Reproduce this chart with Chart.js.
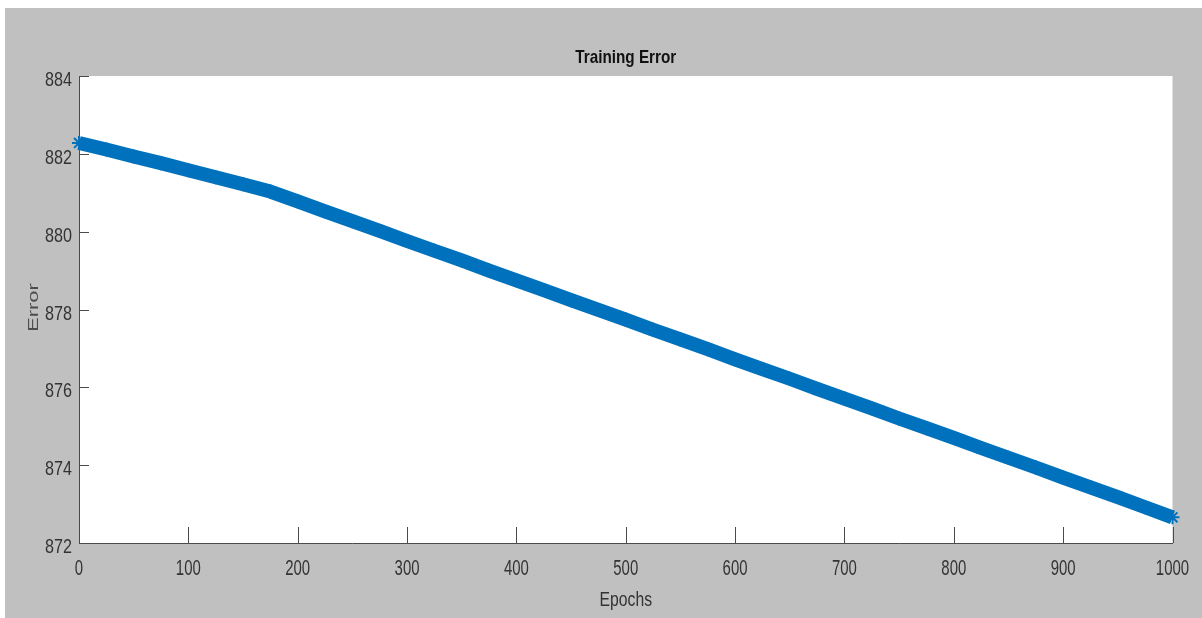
<!DOCTYPE html>
<html>
<head>
<meta charset="utf-8">
<title>Training Error</title>
<script src="https://cdn.jsdelivr.net/npm/chart.js@4.4.1/dist/chart.umd.min.js"></script>
<style>
  html, body { margin: 0; padding: 0; background: #ffffff; overflow: hidden; }
  #wrap { position: relative; width: 1202px; height: 618px; }
</style>
</head>
<body>
<div id="wrap"><canvas id="chart" width="1202" height="618"></canvas></div>
<script>
// Training error recorded every 25 epochs
const epochs = [
  0, 25, 50, 75, 100, 125, 150, 175, 200, 225,
  250, 275, 300, 325, 350, 375, 400, 425, 450, 475,
  500, 525, 550, 575, 600, 625, 650, 675, 700, 725,
  750, 775, 800, 825, 850, 875, 900, 925, 950, 975, 1000
];
const trainingError = [
  882.28, 882.11, 881.93, 881.76, 881.58, 881.40, 881.22, 881.03, 880.78, 880.52,
  880.27, 880.02, 879.76, 879.51, 879.26, 879.00, 878.75, 878.50, 878.24, 877.99,
  877.74, 877.48, 877.23, 876.98, 876.72, 876.47, 876.22, 875.96, 875.71, 875.46,
  875.20, 874.95, 874.70, 874.44, 874.19, 873.94, 873.68, 873.43, 873.18, 872.92, 872.66
];
const xTickValues = [0, 100, 200, 300, 400, 500, 600, 700, 800, 900, 1000];
const yTickValues = [872, 874, 876, 878, 880, 882, 884];
const chartTitle = 'Training Error';
const xAxisTitle = 'Epochs';
const yAxisTitle = 'Error';

const FIGURE_GRAY = '#c0c0c0';
const AXIS_COLOR = '#4a4a4a';
const LABEL_COLOR = '#333333';
const LINE_BLUE = '#0072BD';
const SANS = "'Liberation Sans', Arial, sans-serif";

// Figure background: thin white margin, gray figure, white axes box
const figureBackground = {
  id: 'figureBackground',
  beforeDraw(chart) {
    const { ctx, chartArea: a, width, height } = chart;
    ctx.save();
    ctx.fillStyle = '#ffffff';
    ctx.fillRect(0, 0, width, height);
    ctx.fillStyle = FIGURE_GRAY;
    ctx.fillRect(5, 8, width - 5, height - 8);
    ctx.fillStyle = '#ffffff';
    ctx.fillRect(a.left, a.top, a.right - a.left, a.bottom - a.top);
    ctx.restore();
  }
};

// Tick marks pointing into the axes box
const innerTicks = {
  id: 'innerTicks',
  beforeDatasetsDraw(chart) {
    const { ctx, chartArea: a, scales } = chart;
    ctx.save();
    ctx.strokeStyle = AXIS_COLOR;
    ctx.lineWidth = 1;
    ctx.beginPath();
    xTickValues.forEach(v => {
      const px = Math.round(scales.x.getPixelForValue(v)) + 0.5;
      ctx.moveTo(px, a.bottom);
      ctx.lineTo(px, a.bottom - 16);
    });
    yTickValues.forEach(v => {
      const py = Math.round(scales.y.getPixelForValue(v)) + 0.5;
      ctx.moveTo(a.left, py);
      ctx.lineTo(a.left + 10, py);
    });
    ctx.stroke();
    ctx.restore();
  }
};

// Condensed text: drawn with a horizontal squeeze along the text direction
function drawText(ctx, text, x, y, o) {
  ctx.save();
  ctx.translate(x, y);
  if (o.rotate) ctx.rotate(o.rotate);
  ctx.scale(o.sx, 1);
  ctx.font = o.font;
  ctx.fillStyle = o.color;
  ctx.textAlign = o.align;
  ctx.textBaseline = 'alphabetic';
  ctx.fillText(text, 0, 0);
  ctx.restore();
}

// Tick labels, axis titles and chart title
const textLayer = {
  id: 'textLayer',
  afterDraw(chart) {
    const { ctx, chartArea: a, scales } = chart;
    const cx = (a.left + a.right) / 2;
    yTickValues.forEach(v => {
      const py = scales.y.getPixelForValue(v);
      drawText(ctx, String(v), a.left - 7, py + 10,
        { font: `21px ${SANS}`, color: LABEL_COLOR, align: 'right', sx: 0.77 });
    });
    xTickValues.forEach(v => {
      const px = scales.x.getPixelForValue(v);
      drawText(ctx, String(v), px, a.bottom + 32,
        { font: `22px ${SANS}`, color: LABEL_COLOR, align: 'center', sx: 0.68 });
    });
    drawText(ctx, chartTitle, cx, 63,
      { font: `bold 19px ${SANS}`, color: '#111111', align: 'center', sx: 0.805 });
    drawText(ctx, xAxisTitle, cx, 606,
      { font: `21px ${SANS}`, color: LABEL_COLOR, align: 'center', sx: 0.75 });
    drawText(ctx, yAxisTitle, 38, (a.top + a.bottom) / 2 - 2,
      { font: `15px ${SANS}`, color: '#4d4d4d', align: 'center', sx: 1.45, rotate: -Math.PI / 2 });
  }
};

new Chart(document.getElementById('chart'), {
  type: 'line',
  data: {
    datasets: [{
      label: chartTitle,
      data: epochs.map((e, i) => ({ x: e, y: trainingError[i] })),
      borderColor: LINE_BLUE,
      backgroundColor: LINE_BLUE,
      borderWidth: 14,
      borderCapStyle: 'butt',
      borderJoinStyle: 'round',
      tension: 0,
      pointStyle: 'star',
      pointRadius: 7,
      pointBorderWidth: 2,
      pointBorderColor: LINE_BLUE,
      pointBackgroundColor: LINE_BLUE,
      clip: false
    }]
  },
  options: {
    responsive: false,
    animation: false,
    devicePixelRatio: 1,
    events: [],
    layout: { padding: { left: 0, right: 29.5, top: 76, bottom: 0 } },
    plugins: {
      legend: { display: false },
      tooltip: { enabled: false },
      title: { display: false }
    },
    scales: {
      x: {
        type: 'linear',
        min: 0,
        max: 1000,
        afterBuildTicks: s => { s.ticks = xTickValues.map(v => ({ value: v })); },
        afterFit: s => { s.height = 75; },
        grid: { display: false, drawTicks: false, tickLength: 0 },
        border: { display: true, color: AXIS_COLOR, width: 1 },
        ticks: { display: false }
      },
      y: {
        type: 'linear',
        min: 872,
        max: 884,
        afterBuildTicks: s => { s.ticks = yTickValues.map(v => ({ value: v })); },
        afterFit: s => { s.width = 79; },
        grid: { display: false, drawTicks: false, tickLength: 0 },
        border: { display: true, color: AXIS_COLOR, width: 1 },
        ticks: { display: false }
      }
    }
  },
  plugins: [figureBackground, innerTicks, textLayer]
});
</script>
</body>
</html>
